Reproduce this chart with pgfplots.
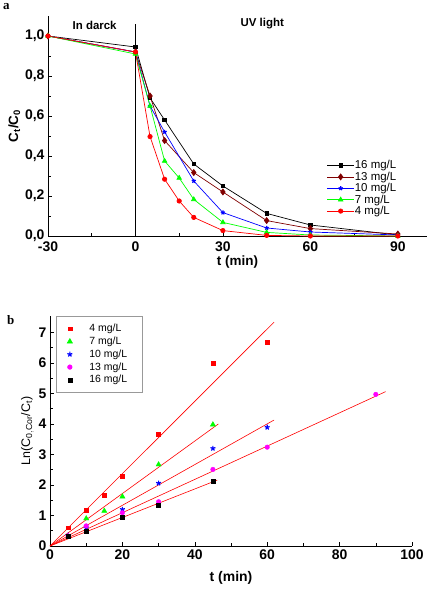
\documentclass[border=0pt]{standalone}
\usepackage{pgfplots}
\pgfplotsset{compat=1.18}
\usepackage{fontspec}
\setmainfont{Liberation Sans}
\newfontfamily\serifbf{Liberation Serif}
\definecolor{maroon}{HTML}{800000}
\definecolor{lgreen}{HTML}{00FF00}
\definecolor{mag}{HTML}{FF00FF}
\begin{document}
\begin{tikzpicture}
\useasboundingbox (0,0) rectangle (427bp,589bp);
\node[anchor=north west,inner sep=0pt,font=\serifbf\bfseries\fontsize{13}{13}\selectfont] at (3bp,586bp) {a};
\node[anchor=north west,inner sep=0pt,font=\serifbf\bfseries\fontsize{13}{13}\selectfont] at (7bp,274bp) {b};
% ---------- panel a ----------
\begin{axis}[
  at={(48bp,353bp)}, anchor=south west,
  scale only axis, width=379bp, height=220bp,
  xmin=-30, xmax=100, ymin=0, ymax=1.1,
  axis lines*=left,
  clip=false,
  xtick={-30,0,30,60,90},
  ytick={0,0.2,0.4,0.6,0.8,1.0},
  minor x tick num=1, minor y tick num=1,
  major tick length=4bp, minor tick length=2.5bp,
  tick style={black, line width=0.6pt},
  axis line style={line width=0.8pt},
  /pgf/number format/assume math mode=true,
  tick label style={font=\bfseries\fontsize{14}{14}\selectfont},
  xticklabel style={yshift=-2bp},
  yticklabel style={/pgf/number format/.cd, use comma, fixed, fixed zerofill, precision=1},
  xlabel={\bfseries t (min)},
  ylabel={\bfseries C$_{\mathbf t}$/C$_{\mathbf 0}$},
  label style={font=\bfseries\fontsize{13.5}{14}\selectfont},
  xlabel style={yshift=2bp},
  ylabel style={yshift=-2bp},
  legend style={draw=none, fill=none, at={(0.733,0.357)}, anchor=north west,
    font=\fontsize{11.5}{12}\selectfont, row sep=-2.4pt, inner sep=1pt,
    nodes={inner xsep=0.5pt}},
  legend cell align=left,
  legend image code/.code={\draw[mark repeat=2,mark phase=2,#1] plot coordinates {(0cm,0cm) (0.47cm,0cm) (0.94cm,0cm)};},
  every axis plot/.append style={line width=0.7pt, mark size=2.2pt},
]
\addplot[black, mark=square*, mark size=1.8pt] coordinates {(-30,1.0) (0,0.945) (5,0.69) (10,0.58) (20,0.36) (30,0.25) (45,0.113) (60,0.055) (90,0.005)};
\addlegendentry{16 mg/L}
\addplot[maroon, mark=diamond*, mark size=3pt] coordinates {(-30,1.0) (0,0.92) (5,0.70) (10,0.477) (20,0.317) (30,0.22) (45,0.077) (60,0.037) (90,0.01)};
\addlegendentry{13 mg/L}
\addplot[blue, mark=star, mark options={line width=1.2pt}] coordinates {(-30,1.0) (0,0.92) (5,0.65) (10,0.52) (20,0.275) (30,0.117) (45,0.04) (60,0.02) (90,0.005)};
\addlegendentry{10 mg/L}
\addplot[lgreen, mark=triangle*, mark size=2.6pt] coordinates {(-30,1.0) (0,0.91) (5,0.65) (10,0.375) (15,0.29) (20,0.183) (30,0.068) (45,0.018) (60,0.005) (90,0.0)};
\addlegendentry{7 mg/L}
\addplot[red, mark=*] coordinates {(-30,1.0) (0,0.92) (5,0.497) (10,0.284) (15,0.175) (20,0.093) (30,0.027) (45,0.003) (60,0.0) (90,0.0)};
\addlegendentry{4 mg/L}
\addplot[black, line width=0.6pt, mark=none, forget plot] coordinates {(0,0) (0,1.06)};
\node[font=\bfseries\fontsize{11.5}{12}\selectfont] at (axis cs:-14,1.055) {In darck};
\node[font=\bfseries\fontsize{11.5}{12}\selectfont] at (axis cs:43.5,1.06) {UV light};
\end{axis}
% ---------- panel b ----------
\begin{axis}[
  at={(50bp,43bp)}, anchor=south west,
  scale only axis, width=362bp, height=230bp,
  xmin=0, xmax=100, ymin=0, ymax=7.54,
  axis lines*=left,
  clip=false,
  xtick={0,20,40,60,80,100},
  ytick={0,1,2,3,4,5,6,7},
  minor x tick num=1, minor y tick num=1,
  major tick length=4bp, minor tick length=2.5bp,
  tick style={black, line width=0.6pt},
  axis line style={line width=0.8pt},
  /pgf/number format/assume math mode=true,
  tick label style={font=\bfseries\fontsize{14}{14}\selectfont},
  xlabel={\bfseries t (min)},
  ylabel={Ln(C$_{\mathrm{0,Cor}}$/C$_{\mathrm t}$)},
  label style={font=\fontsize{12.5}{14}\selectfont},
  xlabel style={font=\bfseries\fontsize{14}{14}\selectfont, yshift=-5bp},
  ylabel style={yshift=-2bp},
  legend style={draw=gray!80, fill=white, at={(0.0166,1.0)}, anchor=north west,
    font=\fontsize{10.5}{11}\selectfont, row sep=-0.3pt, inner xsep=11pt, inner ysep=6pt, line width=0.6pt},
  legend cell align=left,
  legend image code/.code={\draw[#1] plot coordinates {(0.45cm,0cm)};},
]
\addplot[only marks, red, mark=square*, mark size=2pt] coordinates {(5,0.6) (10,1.17) (15,1.67) (20,2.3) (30,3.67) (45,5.99) (60,6.69)};
\addlegendentry{\hspace{15pt}4 mg/L}
\addplot[only marks, lgreen, mark=triangle*, mark size=3pt] coordinates {(10,0.9) (15,1.15) (20,1.62) (30,2.67) (45,3.98)};
\addlegendentry{\hspace{15pt}7 mg/L}
\addplot[only marks, blue, mark=star, mark size=2.6pt, mark options={line width=1.2pt}] coordinates {(5,0.35) (10,0.6) (20,1.2) (30,2.06) (45,3.2) (60,3.89)};
\addlegendentry{\hspace{15pt}10 mg/L}
\addplot[only marks, mag, mark=*, mark size=2.3pt] coordinates {(5,0.33) (10,0.66) (20,1.09) (30,1.45) (45,2.51) (60,3.24) (90,4.97)};
\addlegendentry{\hspace{15pt}13 mg/L}
\addplot[only marks, black, mark=square*, mark size=2pt] coordinates {(5,0.33) (10,0.5) (20,0.96) (30,1.33) (45,2.14)};
\addlegendentry{\hspace{15pt}16 mg/L\rule{2pt}{0pt}}
\addplot[red, line width=0.6pt, mark=none, forget plot] coordinates {(0,0) (61.9,7.34)};
\addplot[red, line width=0.6pt, mark=none, forget plot] coordinates {(0,0) (46.5,4.0)};
\addplot[red, line width=0.6pt, mark=none, forget plot] coordinates {(0,0) (61.9,4.13)};
\addplot[red, line width=0.6pt, mark=none, forget plot] coordinates {(0,0) (92.7,5.06)};
\addplot[red, line width=0.6pt, mark=none, forget plot] coordinates {(0,0) (46.2,2.16)};
\end{axis}
\end{tikzpicture}
\end{document}
